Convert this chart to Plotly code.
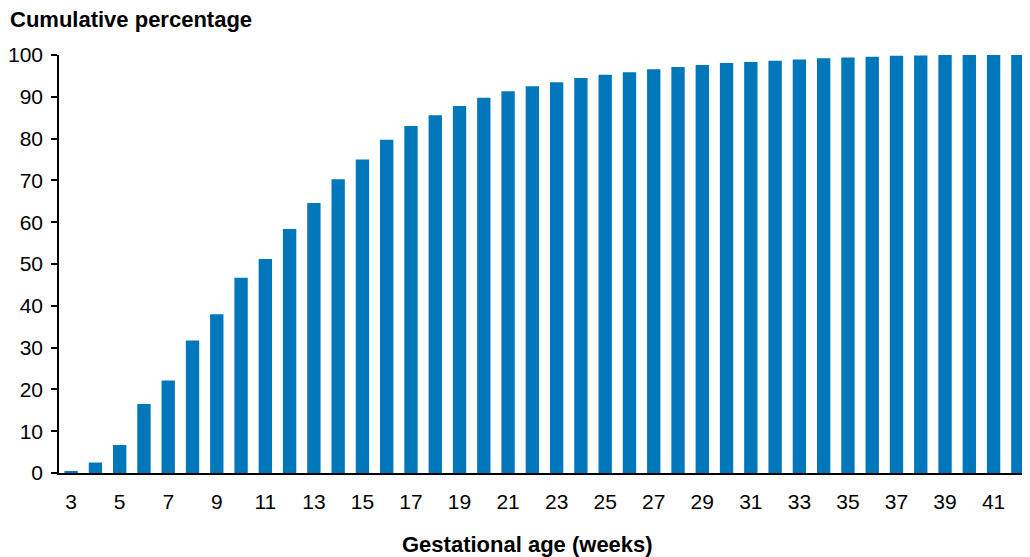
import plotly.graph_objects as go

weeks = list(range(3, 43))
cum_pct = [0.3, 2.5, 6.7, 16.5, 22.1, 31.7, 38.0, 46.7, 51.2, 58.4,
           64.6, 70.3, 75.0, 79.7, 83.0, 85.6, 87.8, 89.8, 91.3, 92.5,
           93.5, 94.5, 95.3, 95.9, 96.6, 97.1, 97.6, 98.1, 98.3, 98.6,
           98.9, 99.2, 99.4, 99.6, 99.8, 99.9, 100.0, 100.0, 100.0, 100.0]
x_ticks = list(range(3, 42, 2))
y_ticks = list(range(0, 101, 10))

font = dict(family="Liberation Sans, Arial, sans-serif", size=21, color="black")
title_font = dict(family="Liberation Sans, Arial, sans-serif", size=22, color="black")

# page body has an 8px margin, so the figure is drawn 8px smaller and offset
W, H = 1022, 549
L, T, B = 51, 47, 84
PW, PH = W - L, H - T - B

bars = go.Bar(x=weeks, y=cum_pct, width=0.55,
              marker=dict(color="#0077BA", line=dict(width=0)))

layout = go.Layout(
    width=W, height=H,
    margin=dict(l=L, r=0, t=T, b=B),
    plot_bgcolor="white", paper_bgcolor="white",
    font=font,
    showlegend=False,
    xaxis=dict(range=[2.5, 42.5], tickmode="array", tickvals=x_ticks,
               showgrid=False, zeroline=False, showline=True,
               linecolor="black", linewidth=1.5, ticks="outside",
               ticklen=9, tickcolor="rgba(0,0,0,0)"),
    yaxis=dict(range=[0, 100], tickmode="array", tickvals=y_ticks,
               showgrid=False, zeroline=False, showline=True,
               linecolor="black", linewidth=1.5, ticks="outside",
               ticklen=6, tickcolor="black", tickwidth=1.5,
               ticklabelstandoff=4),
    annotations=[
        dict(text="<b>Cumulative percentage</b>", xref="paper", yref="paper",
             x=-L / PW, y=1 + (T - 11) / PH, xanchor="left", yanchor="middle",
             showarrow=False, font=title_font),
        dict(text="<b>Gestational age (weeks)</b>", xref="paper", yref="paper",
             x=(519 - L) / PW, y=-(536 - (H - B)) / PH,
             xanchor="center", yanchor="middle", showarrow=False, font=title_font),
    ],
)

fig = go.Figure(data=[bars], layout=layout)
fig.write_html("out.html")
